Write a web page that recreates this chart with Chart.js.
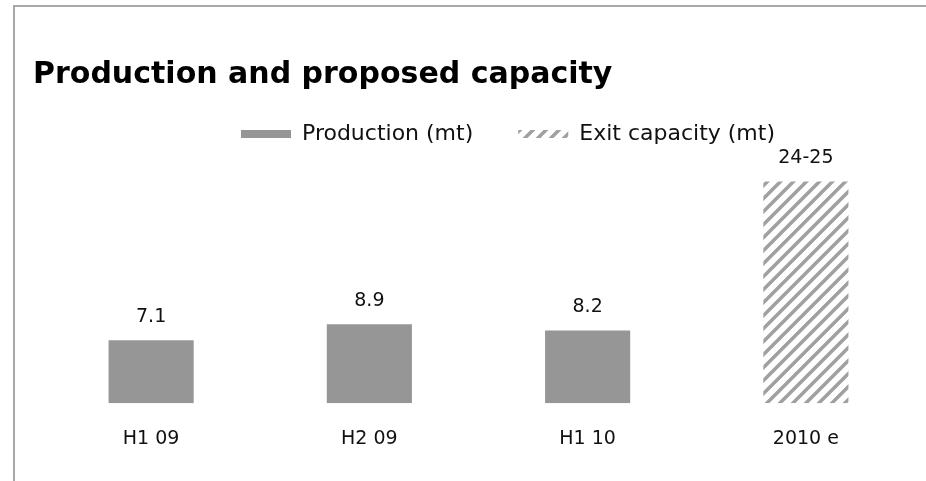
<!DOCTYPE html>
<html>
<head>
<meta charset="utf-8">
<title>Production and proposed capacity</title>
<script src="https://cdn.jsdelivr.net/npm/chart.js@4/dist/chart.umd.min.js"></script>
<style>
    html, body { margin: 0; padding: 0; background: #fff; }
    #wrap { position: relative; width: 926px; height: 481px; overflow: hidden; }
    #frame {
        position: absolute; left: 13px; top: 5px; right: 0; bottom: 0;
        border-top: 2px solid #a8a8a8; border-left: 2px solid #a8a8a8;
        pointer-events: none;
    }
    canvas { display: block; }
</style>
</head>
<body>
<div id="wrap">
    <div id="frame"></div>
    <canvas id="myChart" width="926" height="481"></canvas>
</div>
<script>
const periods = ['H1 09', 'H2 09', 'H1 10', '2010 e'];
const production = [7.1, 8.9, 8.2, null];
const exitCapacity = [null, null, null, 25];
const capacityLabel = '24-25';

const ctx = document.getElementById('myChart');

// diagonal stripes for the capacity bar
const makeHatch = () => {
    const s = 13;
    const tile = document.createElement('canvas');
    tile.width = s;
    tile.height = s;
    const g = tile.getContext('2d');
    g.fillStyle = '#fff';
    g.fillRect(0, 0, s, s);
    g.strokeStyle = '#a0a0a0';
    g.lineWidth = 3.5;
    g.beginPath();
    g.moveTo(-s, s); g.lineTo(s, -s);
    g.moveTo(0, 2 * s); g.lineTo(2 * s, 0);
    g.moveTo(-s / 2, 1.5 * s); g.lineTo(1.5 * s, -s / 2);
    g.stroke();
    return g.createPattern(tile, 'repeat');
};
const hatch = makeHatch();

// value labels above each bar
const barLabels = {
    id: 'barLabels',
    afterDatasetsDraw(chart) {
        const c = chart.ctx;
        c.save();
        c.font = '19px "DejaVu Sans", sans-serif';
        c.fillStyle = '#111';
        c.textAlign = 'center';
        c.textBaseline = 'bottom';
        chart.data.datasets.forEach((ds, i) => {
            chart.getDatasetMeta(i).data.forEach((bar, j) => {
                const v = ds.data[j];
                if (v === null || v === undefined) return;
                const text = i === 1 ? capacityLabel : v.toFixed(1);
                c.fillText(text, bar.x, bar.y - 14);
            });
        });
        c.restore();
    },
};

// legend sits a little right of centre
const legendShift = {
    id: 'legendShift',
    afterLayout(chart) {
        chart.legend.left += 34;
        chart.legend.right += 34;
    },
};

const options = {
    responsive: false,
    animation: false,
    layout: {
        padding: { top: 0, left: 33, right: 11, bottom: 15 },
    },
    scales: {
        x: {
            grid: { display: false },
            border: { display: false },
            ticks: {
                color: '#111',
                padding: 16,
                font: { family: '"DejaVu Sans", sans-serif', size: 19 },
            },
        },
        y: {
            min: 0,
            max: 28,
            grid: { display: false },
            border: { display: false },
            ticks: { display: false },
            afterFit: (scale) => { scale.width = 9; },
        },
    },
    plugins: {
        tooltip: { enabled: false },
        title: {
            display: true,
            text: 'Production and proposed capacity',
            align: 'start',
            color: '#000',
            font: { family: '"DejaVu Sans", sans-serif', weight: 'bold', size: 30 },
            padding: { top: 57, bottom: -15 },
        },
        legend: {
            display: true,
            position: 'top',
            labels: {
                color: '#111',
                boxWidth: 50,
                boxHeight: 8,
                padding: 45,
                font: { family: '"DejaVu Sans", sans-serif', size: 22 },
            },
        },
    },
};

let myChart = new Chart(ctx, {
    type: 'bar',
    data: {
        labels: periods,
        datasets: [
            {
                label: 'Production (mt)',
                data: production,
                backgroundColor: '#969696',
                borderWidth: 0,
                grouped: false,
                categoryPercentage: 1,
                barPercentage: 0.39,
            },
            {
                label: 'Exit capacity (mt)',
                data: exitCapacity,
                backgroundColor: hatch,
                borderWidth: 0,
                grouped: false,
                categoryPercentage: 1,
                barPercentage: 0.39,
            },
        ],
    },
    options: options,
    plugins: [barLabels, legendShift],
});
</script>
</body>
</html>
